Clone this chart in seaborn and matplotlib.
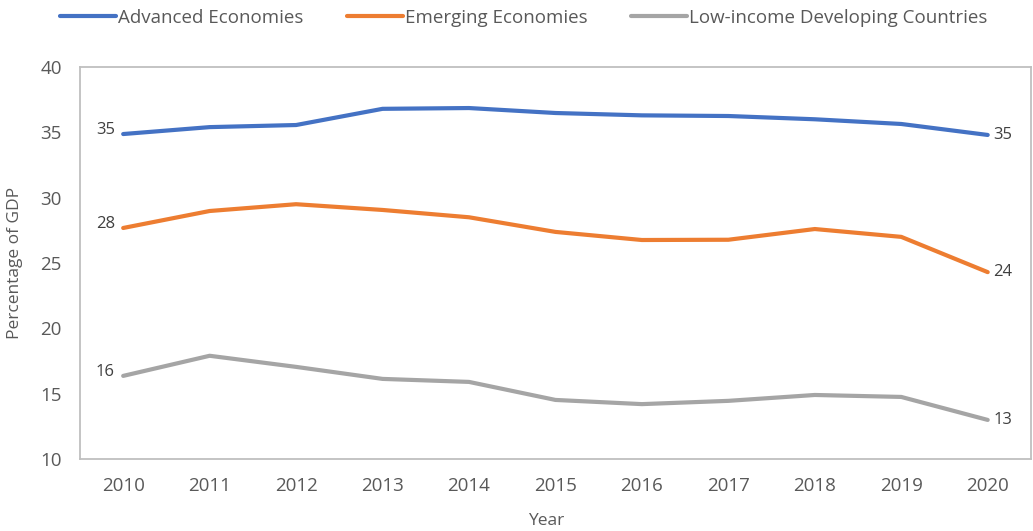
import matplotlib
matplotlib.use("Agg")
import matplotlib.pyplot as plt
import seaborn as sns
import pandas as pd

years = list(range(2010, 2021))
advanced = [34.87, 35.4, 35.56, 36.8, 36.86, 36.48, 36.3, 36.25, 36.0, 35.64, 34.8]
emerging = [27.68, 28.98, 29.5, 29.06, 28.5, 27.38, 26.76, 26.78, 27.6, 27.0, 24.3]
low_income = [16.36, 17.9, 17.05, 16.13, 15.9, 14.52, 14.2, 14.45, 14.9, 14.75, 12.99]
series_names = ["Advanced Economies", "Emerging Economies", "Low-income Developing Countries"]
colors = ["#4472C4", "#ED7D31", "#A5A5A5"]

df = pd.concat([
    pd.DataFrame({"Year": years, "Value": v, "Series": n})
    for n, v in zip(series_names, [advanced, emerging, low_income])
])

sns.set_theme(style="white")
plt.rcParams['font.family'] = ['Open Sans', 'DejaVu Sans']
text_color = "#595959"

fig = plt.figure(figsize=(10.33, 5.31), dpi=100)
ax = fig.add_axes([0.0774, 0.1356, 0.9206, 0.7382])
sns.lineplot(data=df, x="Year", y="Value", hue="Series", palette=colors,
             linewidth=3, ax=ax, legend=True, solid_capstyle="round")

ax.set_xlim(2009.5, 2020.5)
ax.set_ylim(10, 40)
ax.set_xticks(years)
ax.set_xticklabels([str(y) for y in years])
ax.set_yticks(range(10, 41, 5))
ax.tick_params(axis="both", colors=text_color, labelsize=13.5, length=0)
ax.tick_params(axis="y", pad=13)
ax.tick_params(axis="x", pad=13)
for s in ax.spines.values():
    s.set_color("#BFBFBF")
    s.set_linewidth(1.3)
ax.set_xlabel("Year", color=text_color, fontsize=12.5)
ax.set_ylabel("Percentage of GDP", color=text_color, fontsize=12.5)
ax.xaxis.set_label_coords(0.49, -0.138)
ax.yaxis.set_label_coords(-0.06, 0.5)

for vals, c in zip([advanced, emerging, low_income], colors):
    ax.annotate(f"{round(vals[0])}", (years[0], vals[0]), xytext=(-6, 3),
                textcoords="offset points", ha="right", va="center",
                color="#404040", fontsize=12)
    ax.annotate(f"{round(vals[-1])}", (years[-1], vals[-1]), xytext=(4, 0),
                textcoords="offset points", ha="left", va="center",
                color="#404040", fontsize=12)

handles, labels = ax.get_legend_handles_labels()
leg = ax.legend(handles, labels, loc="center", ncol=3, frameon=False,
                fontsize=13.5, labelcolor=text_color,
                handlelength=3.0, handletextpad=0.1, columnspacing=2.3)
leg.set_bbox_to_anchor((0.507, 0.967), transform=fig.transFigure)

fig.savefig("out.png", dpi=100)
